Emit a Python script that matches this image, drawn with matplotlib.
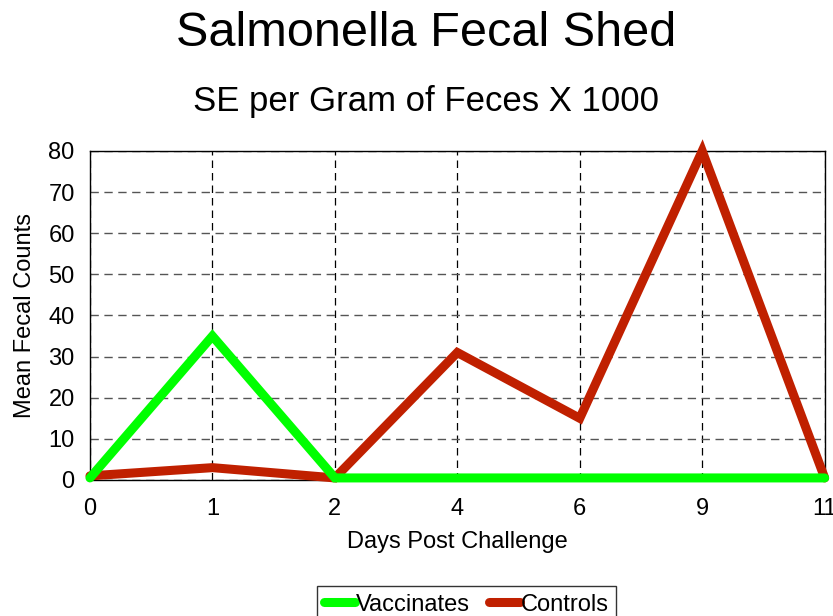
import numpy as np
import matplotlib.pyplot as plt

plt.rcParams['font.family'] = ['Liberation Sans', 'DejaVu Sans']

days = ['0', '1', '2', '4', '6', '9', '11']
vaccinates = [0.5, 35, 0.5, 0.5, 0.5, 0.5, 0.5]
controls = [1, 3, 0.5, 31, 15, 80, 0.5]

fig = plt.figure(figsize=(8.33, 6.16), dpi=100)
ax = fig.add_axes([0.108, 0.2208, 0.882, 0.5341])

x = np.arange(len(days))
ax.plot(x, controls, color='#C02000', lw=6.5, solid_capstyle='round',
        solid_joinstyle='miter', clip_on=False, label='Controls', zorder=3)
ax.plot(x, vaccinates, color='#00FF00', lw=6.5, solid_capstyle='round',
        solid_joinstyle='miter', clip_on=False, label='Vaccinates', zorder=4)

ax.set_xlim(0, len(days) - 1)
ax.set_ylim(0, 80)
ax.set_xticks(x)
ax.set_xticklabels(days)
ax.set_yticks(np.arange(0, 81, 10))
ax.tick_params(length=0, labelsize=17)
ax.tick_params(axis='x', pad=13)
ax.tick_params(axis='y', pad=11)
ax.yaxis.grid(True, color='#555555', linestyle=(0, (6, 4)), lw=1)
ax.xaxis.grid(True, color='black', linestyle=(0, (6, 4)), lw=0.9)
ax.set_axisbelow(True)
for s in ax.spines.values():
    s.set_linewidth(1)

ax.set_xlabel('Days Post Challenge', fontsize=17, labelpad=8)
ax.set_ylabel('Mean Fecal Counts', fontsize=17, labelpad=9)

fig.text(0.512, 0.945, 'Salmonella Fecal Shed', ha='center', va='center', fontsize=35)
fig.text(0.512, 0.835, 'SE per Gram of Feces X 1000', ha='center', va='center', fontsize=25)

h, l = ax.get_legend_handles_labels()
leg = fig.legend(h[::-1], l[::-1], loc='upper center', bbox_to_anchor=(0.56, 0.048),
                 ncol=2, fontsize=17, frameon=True, fancybox=False,
                 handlelength=1.3, handletextpad=0.05, columnspacing=0.8,
                 borderpad=0.3, borderaxespad=0)
leg.get_frame().set_edgecolor('black')
leg.get_frame().set_linewidth(1)

fig.savefig('out.png', dpi=100)
